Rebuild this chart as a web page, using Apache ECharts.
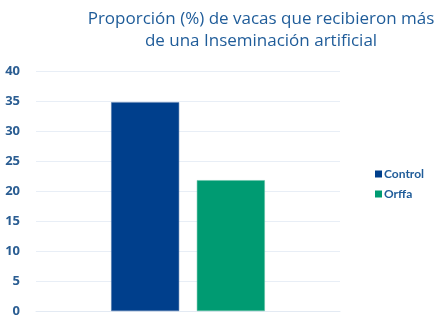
<!DOCTYPE html>
<html>
<head>
<meta charset="utf-8">
<script src="https://cdn.jsdelivr.net/npm/echarts@6/dist/echarts.min.js"></script>
<style>
  html, body { margin: 0; padding: 0; background: #ffffff; }
  #chart { width: 444px; height: 327px; }
</style>
</head>
<body>
<div id="chart"></div>
<script>
// Share of cows that needed more than one artificial insemination
const categories = [''];
const seriesNames = ['Control', 'Orffa'];
const controlValues = [34.8];
const orffaValues = [21.8];
const seriesColors = ['#003F8C', '#009B72'];
const titleText = 'Proporción (%) de vacas que recibieron más\nde una Inseminación artificial';

const chart = echarts.init(document.getElementById('chart'), null, { renderer: 'canvas' });

chart.setOption({
  animation: false,
  title: {
    text: titleText,
    left: 256,
    textAlign: 'center',
    top: 3,
    textStyle: {
      fontFamily: 'Open Sans',
      fontSize: 17,
      fontWeight: 'normal',
      color: '#1F5C99',
      lineHeight: 22
    }
  },
  legend: {
    orient: 'vertical',
    left: 370,
    top: 163,
    itemWidth: 7,
    itemHeight: 7,
    itemGap: 8,
    icon: 'rect',
    itemStyle: { borderWidth: 0 },
    textStyle: {
      fontFamily: 'Lato',
      fontSize: 12,
      fontWeight: 'bold',
      color: '#1F5C99',
      padding: [0, 0, 0, -3]
    },
    data: seriesNames
  },
  grid: {
    left: 36,
    right: 104,
    top: 71,
    bottom: 16,
    containLabel: false
  },
  xAxis: {
    type: 'category',
    data: categories,
    axisLine: { show: true, lineStyle: { color: '#E3EAF3', width: 1 } },
    axisTick: { show: false },
    axisLabel: { show: false }
  },
  yAxis: {
    type: 'value',
    min: 0,
    max: 40,
    interval: 5,
    axisLine: { show: false },
    axisTick: { show: false },
    splitLine: { lineStyle: { color: '#E8EEF6', width: 1 } },
    axisLabel: {
      margin: 16,
      fontFamily: 'Open Sans',
      fontSize: 13,
      fontWeight: 'bold',
      color: '#2A5D92'
    }
  },
  series: [
    {
      name: seriesNames[0],
      type: 'bar',
      data: controlValues,
      barWidth: 68,
      barGap: '26%',
      itemStyle: { color: seriesColors[0], borderColor: '#4C74A8', borderWidth: 0.5 }
    },
    {
      name: seriesNames[1],
      type: 'bar',
      data: orffaValues,
      barWidth: 68,
      barGap: '26%',
      itemStyle: { color: seriesColors[1], borderColor: '#5FC0A3', borderWidth: 0.5 }
    }
  ]
});
</script>
</body>
</html>
